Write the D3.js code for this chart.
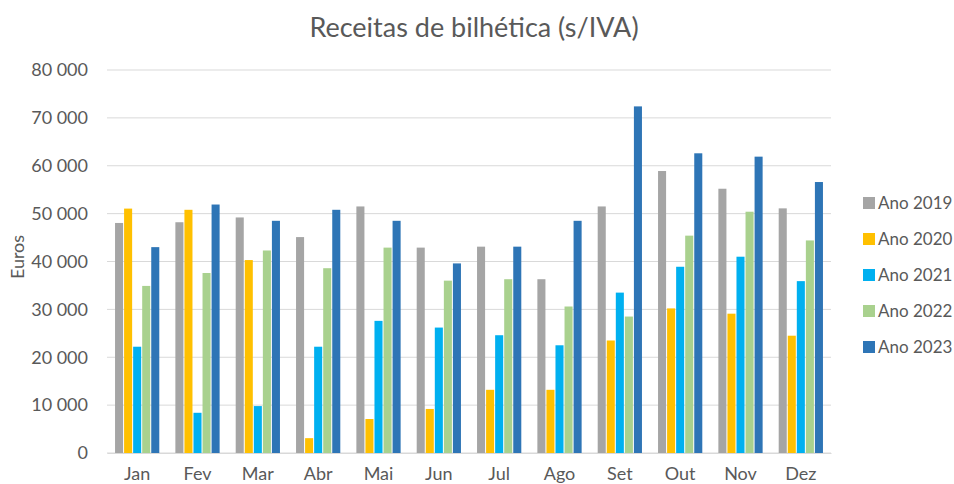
<!DOCTYPE html>
<html>
<head>
<meta charset="utf-8">
<script src="https://cdn.jsdelivr.net/npm/d3@7"></script>
<style>
  body { margin: 0; background: #fff; }
  text { font-family: Lato, "Open Sans", sans-serif; }
</style>
</head>
<body>
<div id="chart"></div>
<script>
// Data
var months = ["Jan", "Fev", "Mar", "Abr", "Mai", "Jun", "Jul", "Ago", "Set", "Out", "Nov", "Dez"];
var seriesNames = ["Ano 2019", "Ano 2020", "Ano 2021", "Ano 2022", "Ano 2023"];
var ano2019 = [48050, 48200, 49200, 45100, 51500, 42900, 43100, 36300, 51500, 58900, 55200, 51100];
var ano2020 = [51050, 50800, 40300, 3100, 7100, 9200, 13200, 13200, 23500, 30200, 29100, 24500];
var ano2021 = [22200, 8400, 9800, 22200, 27600, 26200, 24600, 22500, 33500, 38900, 41000, 35900];
var ano2022 = [34900, 37600, 42300, 38600, 42900, 36000, 36300, 30600, 28500, 45400, 50400, 44400];
var ano2023 = [43000, 51900, 48500, 50800, 48500, 39600, 43100, 48500, 72400, 62600, 61900, 56600];
var yTicks = [0, 10000, 20000, 30000, 40000, 50000, 60000, 70000, 80000];

var seriesValues = [ano2019, ano2020, ano2021, ano2022, ano2023];
var colors = ["#A5A5A5", "#FFC000", "#00B0F0", "#A9D18E", "#2E75B6"];

var width = 954, height = 484;
var plotLeft = 107, plotRight = 831, plotTop = 70, plotBottom = 453;
var textColor = "#595959";

var svg = d3.select("#chart")
    .append("svg")
    .attr("width", width)
    .attr("height", height);

// Title
svg.append("text")
    .attr("x", 474)
    .attr("y", 37)
    .attr("text-anchor", "middle")
    .style("font-size", "27px")
    .style("fill", textColor)
    .text("Receitas de bilhética (s/IVA)");

// scales
var xScale = d3.scaleBand()
    .domain(months)
    .range([plotLeft, plotRight])
    .paddingInner(0.25)
    .paddingOuter(0.125);

var xSub = d3.scaleBand()
    .domain(seriesNames)
    .range([0, xScale.bandwidth()]);

var yScale = d3.scaleLinear()
    .domain([0, 80000])
    .range([plotBottom, plotTop]);

// gridlines
svg.append("g")
    .selectAll("line")
    .data(yTicks)
    .enter()
    .append("line")
    .attr("x1", plotLeft)
    .attr("x2", plotRight)
    .attr("y1", d => yScale(d))
    .attr("y2", d => yScale(d))
    .attr("stroke", "#D9D9D9")
    .attr("stroke-width", 1);

// y axis labels
var fmt = d => d3.format(",")(d).replace(/,/g, " ");
var yAxis = svg.append("g")
    .attr("transform", `translate(${plotLeft}, 0)`)
    .call(d3.axisLeft(yScale).tickValues(yTicks).tickFormat(fmt).tickSize(0).tickPadding(19));
yAxis.select(".domain").remove();
yAxis.selectAll("text")
    .style("font-size", "18px")
    .style("fill", textColor)
    .style("font-family", "Lato, 'Open Sans', sans-serif");

// y axis title
svg.append("text")
    .attr("transform", "translate(24, 257) rotate(-90)")
    .attr("text-anchor", "middle")
    .style("font-size", "18px")
    .style("fill", textColor)
    .text("Euros");

// bars
var groups = svg.append("g")
    .selectAll("g")
    .data(months)
    .enter()
    .append("g")
    .attr("transform", d => `translate(${xScale(d)}, 0)`);

groups.selectAll("rect")
    .data((m, i) => seriesNames.map((s, j) => ({ s: s, j: j, v: seriesValues[j][i] })))
    .enter()
    .append("rect")
    .attr("x", d => xSub(d.s) + 0.5)
    .attr("width", xSub.bandwidth() - 1)
    .attr("y", d => yScale(d.v))
    .attr("height", d => plotBottom - yScale(d.v))
    .attr("fill", d => colors[d.j]);

// x axis
var xAxis = svg.append("g")
    .attr("transform", `translate(0, ${plotBottom})`)
    .call(d3.axisBottom(xScale).tickSize(0).tickPadding(14));
xAxis.select(".domain").attr("stroke", "#D9D9D9");
xAxis.selectAll("text")
    .style("font-size", "18px")
    .style("fill", textColor)
    .style("font-family", "Lato, 'Open Sans', sans-serif");

// legend
var legend = svg.append("g")
    .selectAll("g")
    .data(seriesNames)
    .enter()
    .append("g")
    .attr("transform", (d, i) => `translate(863, ${203 + i * 36})`);

legend.append("rect")
    .attr("x", 0)
    .attr("y", -6)
    .attr("width", 12)
    .attr("height", 12)
    .attr("fill", (d, i) => colors[i]);

legend.append("text")
    .attr("x", 15)
    .attr("y", 0)
    .attr("dy", "0.35em")
    .style("font-size", "17px")
    .style("fill", textColor)
    .text(d => d);
</script>
</body>
</html>
